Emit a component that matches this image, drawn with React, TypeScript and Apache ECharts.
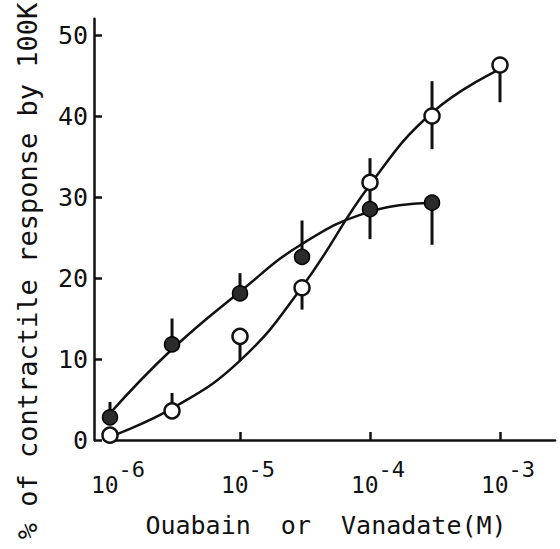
import React, { useEffect, useRef } from "react";
import * as echarts from "echarts";

// Concentrations (M)
const filledConc = [1e-6, 3e-6, 1e-5, 3e-5, 1e-4, 3e-4];
const filledMean = [2.8, 11.8, 18.1, 22.6, 28.5, 29.3];
const filledUpper = [4.7, 15.0, 20.6, 27.1, 31.5, 29.3];
const filledLower = [2.8, 11.8, 18.1, 22.6, 24.8, 24.1];
const filledFit = [3.3, 11.2, 18.3, 24.2, 28.2, 29.3];

const openConc = [1e-6, 3e-6, 1e-5, 3e-5, 1e-4, 3e-4, 1e-3];
const openMean = [0.6, 3.6, 12.8, 18.8, 31.8, 40.0, 46.3];
const openUpper = [0.6, 5.8, 12.8, 18.8, 34.8, 44.3, 46.3];
const openLower = [0.6, 3.6, 9.8, 16.1, 31.8, 35.9, 41.7];
const openFit = [0.4, 3.9, 9.8, 18.9, 31.5, 40.4, 45.8];

const xTickExponents = [-6, -5, -4, -3];
const yTicks = [0, 10, 20, 30, 40, 50];

const FONT = '"DejaVu Sans Mono"';
const INK = "#111";

const pts = (conc: number[], ys: number[]) => conc.map((c, i) => [Math.log10(c), ys[i]]);
const bars = (conc: number[], lo: number[], hi: number[]) =>
  conc.map((c, i) => [Math.log10(c), lo[i], hi[i]]);

export default function App() {
  const ref = useRef<HTMLDivElement>(null);
  useEffect(() => {
    if (!ref.current) return;
    const chart = echarts.init(ref.current, null, { renderer: "svg" });
    const errRender = (params: any, api: any) => {
      const x = api.value(0);
      const p1 = api.coord([x, api.value(1)]);
      const p2 = api.coord([x, api.value(2)]);
      return {
        type: "line",
        shape: { x1: p1[0], y1: p1[1], x2: p2[0], y2: p2[1] },
        style: { stroke: INK, lineWidth: 3 },
      };
    };
    chart.setOption({
      animation: false,
      backgroundColor: "#fff",
      grid: {
        left: 110,
        right: 5,
        top: 18.8,
        bottom: 109,
        containLabel: false,
        outerBoundsMode: "none",
      },
      xAxis: {
        type: "value",
        min: -6,
        max: -6 + 445 / 130,
        offset: 8,
        axisLine: { lineStyle: { color: INK, width: 2.5 } },
        axisTick: {
          inside: true,
          length: 8,
          customValues: xTickExponents,
          lineStyle: { color: INK, width: 2.5 },
        },
        splitLine: { show: false },
        axisLabel: {
          customValues: xTickExponents,
          margin: 10,
          color: INK,
          formatter: (v: number) => `{b|10}{s|${Math.round(v)}}`,
          rich: {
            b: {
              fontSize: 23,
              fontFamily: FONT,
              color: INK,
              lineHeight: 38,
              verticalAlign: "bottom",
              padding: [0, 0, 0, 16],
            },
            s: { fontSize: 22, fontFamily: FONT, color: INK, verticalAlign: "top" },
          },
        },
      },
      yAxis: {
        type: "value",
        min: 0,
        max: 52,
        offset: 16,
        axisLine: { show: true, lineStyle: { color: INK, width: 2.5 } },
        axisTick: {
          show: true,
          inside: true,
          length: 8,
          customValues: yTicks,
          lineStyle: { color: INK, width: 2.5 },
        },
        splitLine: { show: false },
        axisLabel: {
          customValues: yTicks,
          margin: 6,
          fontSize: 25,
          fontFamily: FONT,
          color: INK,
        },
      },
      graphic: [
        {
          type: "text",
          x: 27,
          y: 271,
          rotation: Math.PI / 2,
          style: {
            text: "% of contractile response by 100K",
            fontSize: 27,
            fontFamily: FONT,
            fill: INK,
            textAlign: "center",
            textVerticalAlign: "middle",
          },
        },
        {
          type: "text",
          x: 326,
          y: 525,
          style: {
            text: "Ouabain  or  Vanadate(M)",
            fontSize: 25,
            fontFamily: FONT,
            fill: INK,
            textAlign: "center",
            textVerticalAlign: "middle",
          },
        },
      ],
      series: [
        {
          type: "line",
          data: pts(filledConc, filledFit),
          smooth: 0.45,
          showSymbol: false,
          clip: false,
          lineStyle: { color: INK, width: 2.5 },
          z: 2,
        },
        {
          type: "line",
          data: pts(openConc, openFit),
          smooth: 0.45,
          showSymbol: false,
          clip: false,
          lineStyle: { color: INK, width: 2.5 },
          z: 2,
        },
        {
          type: "custom",
          renderItem: errRender,
          data: bars(filledConc, filledLower, filledUpper),
          encode: { x: 0, y: [1, 2] },
          clip: false,
          z: 3,
        },
        {
          type: "custom",
          renderItem: errRender,
          data: bars(openConc, openLower, openUpper),
          encode: { x: 0, y: [1, 2] },
          clip: false,
          z: 3,
        },
        {
          type: "scatter",
          data: pts(filledConc, filledMean),
          symbol: "circle",
          symbolSize: 15,
          clip: false,
          itemStyle: { color: "#2b2b2b", borderColor: "#000", borderWidth: 1.5, opacity: 1 },
          z: 4,
        },
        {
          type: "scatter",
          data: pts(openConc, openMean),
          symbol: "circle",
          symbolSize: 15,
          clip: false,
          itemStyle: { color: "#fff", borderColor: INK, borderWidth: 2.5, opacity: 1 },
          z: 5,
        },
      ],
    });
    return () => chart.dispose();
  }, []);
  return (
    <div
      ref={ref}
      style={{ position: "fixed", left: 0, top: 0, width: 560, height: 549, background: "#fff" }}
    />
  );
}
